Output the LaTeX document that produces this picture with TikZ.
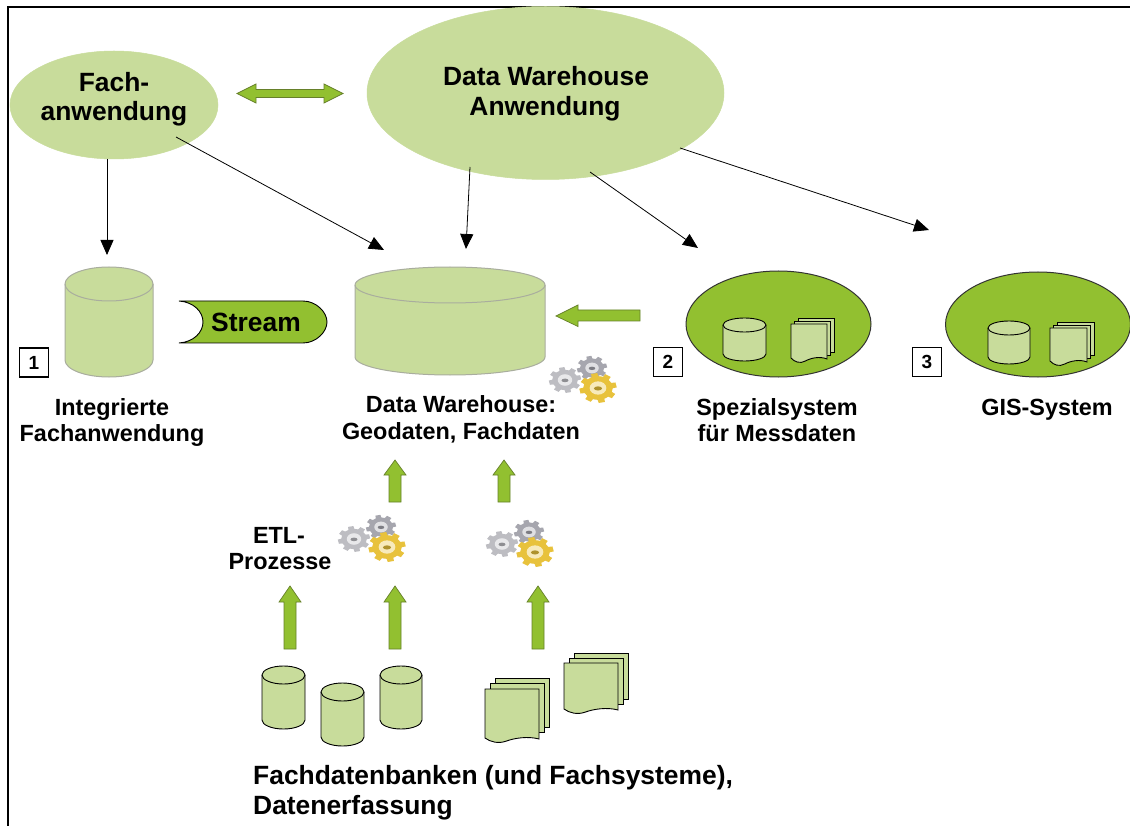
\documentclass[tikz,border=0pt]{standalone}
\usepackage{fontspec}
\setmainfont{Liberation Sans}
\usetikzlibrary{shapes.geometric,arrows.meta}
\definecolor{lightg}{HTML}{C8DC9B}
\definecolor{darkg}{HTML}{92C030}
\definecolor{edgeg}{HTML}{66802A}
\definecolor{graycyl}{HTML}{A9AD9E}
\definecolor{gearGray}{HTML}{BDBDC2}
\definecolor{gearGrayB}{HTML}{A6A6AE}
\definecolor{gearGold}{HTML}{E8C23C}
\tikzset{
  frameline/.style={line width=1.8pt,black},
  lightell/.style={ellipse,fill=lightg,draw=lightg,line width=.5pt,inner sep=0pt},
  darkell/.style={ellipse,fill=darkg,draw=black!80,line width=1pt,inner sep=0pt},
  conn/.style={draw=black,line width=.8pt,-{Triangle[length=15pt,width=13pt,fill=black]}},
  cylout/.style={fill=lightg,draw=black,line width=.9pt},
  cylgray/.style={fill=lightg,draw=graycyl,line width=1pt},
  blockarr/.style={fill=darkg,draw=edgeg,line width=.7pt,line join=miter},
  numbox/.style={draw=black,line width=1.4pt,fill=white,minimum width=29pt,minimum height=29pt,inner sep=0pt,font=\fontsize{19}{19}\selectfont\bfseries},
  lblbig/.style={anchor=base,inner sep=0pt,font=\fontsize{26.4}{30}\selectfont\bfseries},
  lbl/.style={anchor=base,inner sep=0pt,font=\fontsize{23.4}{27}\selectfont\bfseries},
}
% x1 x2 ytop ybottom ry style
\newcommand{\mycyl}[6]{%
  \path[#6] (#1,#3+#5) arc[start angle=180,end angle=360,x radius={(#2-#1)/2},y radius=#5]
    -- (#2,#4-#5) arc[start angle=0,end angle=180,x radius={(#2-#1)/2},y radius=#5] -- cycle;
  \path[#6,fill=none] (#1,#3+#5) arc[start angle=180,end angle=0,x radius={(#2-#1)/2},y radius=#5];
}
% sheet: x1 x2 ytop ybottom
\newcommand{\mysheet}[4]{%
  \path[cylout] (#1,#3) -- (#2,#3) -- (#2,#4-2) .. controls ({#2-.2*(#2-#1)},#4-5) and ({#1+.55*(#2-#1)},#4-3) .. ({#1+.4*(#2-#1)},#4) .. controls ({#1+.25*(#2-#1)},#4+3) and ({#1+.1*(#2-#1)},#4+1) .. (#1,#4-3) -- cycle;
}
% stack: front x1,x2,ytop,ybottom  offset dx,dy per sheet
\newcommand{\mystack}[6]{%
  \path[cylout] ({#1+2*#5},{#3-2*#6}) rectangle ({#2+2*#5},{#4-2*#6-3});
  \path[cylout] ({#1+#5},{#3-#6}) rectangle ({#2+#5},{#4-#6-3});
  \mysheet{#1}{#2}{#3}{#4}
}
% up block arrow: x tip headbase bottom
\newcommand{\myup}[4]{%
  \path[blockarr] (#1,#2) -- (#1+11,#3) -- (#1+6,#3) -- (#1+6,#4) -- (#1-6,#4) -- (#1-6,#3) -- (#1-11,#3) -- cycle;
}
% gear: x y radius colour
\newcommand{\mygear}[4]{%
  \begin{scope}[shift={(#1,#2)},yscale=.8]
  \foreach \a in {0,45,...,315}{
    \fill[#4,rotate=\a+12] (-#3*.24,0) -- (-#3*.17,-#3) -- (#3*.17,-#3) -- (#3*.24,0) -- cycle;
  }
  \fill[#4] (0,0) circle[radius=#3*.8];
  \fill[#4!35!white] (0,0) circle[radius=#3*.45];
  \fill[#4!75!black] (0,#3*.03) ellipse[x radius=#3*.22,y radius=#3*.14];
  \end{scope}
}
\newcommand{\mygears}[2]{%
  \mygear{#1-31}{#2+12}{16}{gearGray}
  \mygear{#1-4}{#2}{15}{gearGrayB}
  \mygear{#1+2}{#2+20}{18.5}{gearGold}
}
\begin{document}
\begin{tikzpicture}[x=1pt,y=-1pt]
\useasboundingbox (0,0) rectangle (1130,826);
\fill[white] (0,0) rectangle (1130,826);
\coordinate (fl) at (8,826);
\coordinate (ftl) at (8,7);
\coordinate (ftr) at (1130,7);
\draw[frameline] (fl) -- (ftl) -- (ftr);

% ellipses
\node[lightell,minimum width=208pt,minimum height=108pt] (fach) at (114,105) {};
\node[lightell,minimum width=357pt,minimum height=173pt] (dwapp) at (545.5,93) {};
\node[lblbig] (t1) at (114,92) {Fach-};
\node[lblbig] (t2) at (114,121) {anwendung};
\node[lblbig] (t3) at (546,86) {Data Warehouse};
\node[lblbig] (t4) at (545,116) {Anwendung};

% double arrow
\path[blockarr] (237,93.5) -- (256,84) -- (256,89.5) -- (324,89.5) -- (324,84) -- (343,93.5) -- (324,103) -- (324,97.5) -- (256,97.5) -- (256,103) -- cycle;

% cylinders big
\mycyl{65}{153}{267}{377}{17}{cylgray}
\mycyl{355}{545}{267}{375}{18}{cylgray}

% stream
\path[fill=darkg,draw=black,line width=.9pt] (179,301) -- (303,301) .. controls (316,301) and (327,312) .. (327,322) .. controls (327,332) and (316,343) .. (303,343) -- (179,343) .. controls (194,342) and (203,332) .. (203,322) .. controls (203,312) and (194,302) .. (179,301) -- cycle;
\node[lblbig] (stream) at (256,331) {Stream};

% left block arrow
\path[blockarr] (556,316) -- (578,305) -- (578,310) -- (640,310) -- (640,321) -- (578,321) -- (578,326.5) -- cycle;

% special systems
\node[darkell,minimum width=185pt,minimum height=106pt] (spez) at (778.5,324) {};
\node[darkell,minimum width=185pt,minimum height=105pt] (gis) at (1038,324.5) {};
\mycyl{723}{766}{318}{361}{7}{cylout}
\mystack{791}{827}{324}{361}{3.5}{3}
\mycyl{988}{1030}{321}{364}{7}{cylout}
\mystack{1050}{1087}{328}{364}{3.5}{3}

% number boxes
\node[numbox] (n1) at (34,362.5) {1};
\node[numbox] (n2) at (668,362) {2};
\node[numbox] (n3) at (927,362) {3};

% gears
\mygears{596}{368}
\mygears{385}{527}
\mygears{533}{532}

% labels
\node[lbl] (l1) at (112,415) {Integrierte};
\node[lbl] (l2) at (112,441) {Fachanwendung};
\node[lbl] (l3) at (461,412) {Data Warehouse:};
\node[lbl] (l4) at (461,439) {Geodaten, Fachdaten};
\node[lbl] (l5) at (777,415) {Spezialsystem};
\node[lbl] (l6) at (777,441) {für Messdaten};
\node[lbl] (l7) at (1047,415) {GIS-System};
\node[lbl] (l8) at (279,543) {ETL-};
\node[lbl] (l9) at (280,569) {Prozesse};
\node[lblbig,anchor=base west] (b1) at (253,784) {Fachdatenbanken (und Fachsysteme),};
\node[lblbig,anchor=base west] (b2) at (253,814) {Datenerfassung};

% block up arrows
\myup{395}{460}{475}{502}
\myup{504}{460}{475}{502}
\myup{290}{586}{602}{649}
\myup{395}{586}{602}{649}
\myup{538}{586}{602}{649}

% small cylinders and stacks
\mycyl{262}{305}{666}{729}{9}{cylout}
\mycyl{321}{364}{683}{746}{9}{cylout}
\mycyl{380}{422}{666}{729}{9}{cylout}
\mystack{485}{539}{689}{741}{5}{5.5}
\mystack{564}{618}{663}{712}{5}{5}

% connectors
\coordinate (e1) at (107,255);
\coordinate (s2) at (176,137);
\coordinate (e2) at (384,250);
\coordinate (s1) at (107,159);
\coordinate (s3) at (470,167);
\coordinate (e3) at (466,249);
\coordinate (s4) at (590,172);
\coordinate (e4) at (698,248);
\coordinate (s5) at (680,148);
\coordinate (e5) at (929,230);
\draw[conn] (s1) -- (e1);
\draw[conn] (s2) -- (e2);
\draw[conn] (s3) -- (e3);
\draw[conn] (s4) -- (e4);
\draw[conn] (s5) -- (e5);
\end{tikzpicture}
\end{document}
